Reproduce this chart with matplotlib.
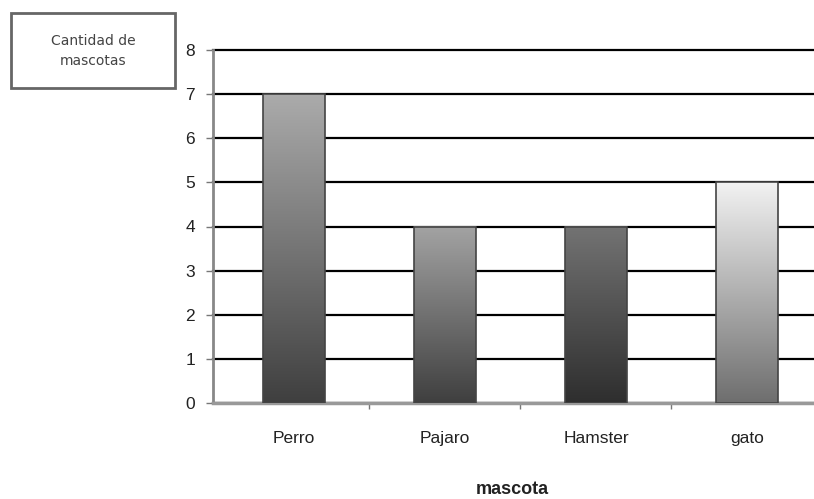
import matplotlib
matplotlib.use("Agg")
import matplotlib.pyplot as plt
import numpy as np
from matplotlib.colors import LinearSegmentedColormap

categories = ["Perro", "Pajaro", "Hamster", "gato"]
values = [7, 4, 4, 5]
yticks = [0, 1, 2, 3, 4, 5, 6, 7, 8]
xlabel = "mascota"
ylabel_box = "Cantidad de\nmascotas"

# gradient (top, bottom) per bar
grads = [("#ababab", "#3f3f3f"), ("#a3a3a3", "#3f3f3f"),
         ("#737373", "#2e2e2e"), ("#f2f2f2", "#6e6e6e")]

plt.rcParams['font.family'] = ['Liberation Sans', 'DejaVu Sans']
fig = plt.figure(figsize=(8.14, 4.99), dpi=100)
ax = fig.add_axes([213/814, 1-403/499, 1-213/814, (403-50)/499])

x = np.arange(len(categories))
w = 0.41
grad = np.linspace(0, 1, 256).reshape(-1, 1)
for xi, v, (top, bot) in zip(x, values, grads):
    cmap = LinearSegmentedColormap.from_list("g", [bot, top])
    ax.imshow(grad, extent=[xi - w/2, xi + w/2, 0, v], origin="lower",
              cmap=cmap, aspect="auto", zorder=3, interpolation="bilinear")
    ax.bar(xi, v, width=w, facecolor="none", edgecolor="#444444",
           linewidth=1.2, zorder=4)

ax.set_xlim(-0.536, 3.444)
ax.set_ylim(0, 8)
ax.set_yticks(yticks)
ax.set_yticklabels([str(t) for t in yticks], fontsize=12.5, color="#222222")
ax.yaxis.grid(True, color="black", linewidth=1.6, zorder=1)
for gl in ax.get_ygridlines():
    gl.set_clip_on(False)
ax.set_axisbelow(True)

ax.set_xticks(x)
ax.set_xticklabels(categories, fontsize=12.5, color="#222222")
ax.tick_params(axis="x", which="major", length=0, pad=20)
ax.set_xticks(x[:-1] + 0.5, minor=True)
ax.tick_params(axis="x", which="minor", length=4, width=1, color="#777777")
ax.tick_params(axis="y", length=5, width=1, color="#777777", pad=8)

for s in ["top", "right"]:
    ax.spines[s].set_visible(False)
ax.spines["left"].set_color("#888888")
ax.spines["left"].set_linewidth(2)
ax.spines["bottom"].set_color("#999999")
ax.spines["bottom"].set_linewidth(2.5)

fig.text(512/814, 1-489/499, xlabel, fontsize=13, fontweight="bold",
         ha="center", va="center", color="#222222")

# boxed label
fig.patches.append(plt.Rectangle((11/814, 1-88/499), 164/814, 75/499,
                                 transform=fig.transFigure, facecolor="white",
                                 edgecolor="#666666", linewidth=2))
fig.text(93/814, 1-51/499, ylabel_box, fontsize=10, ha="center", va="center",
         color="#444444", linespacing=1.5, family=["DejaVu Sans"])

fig.savefig("out.png", dpi=100)
